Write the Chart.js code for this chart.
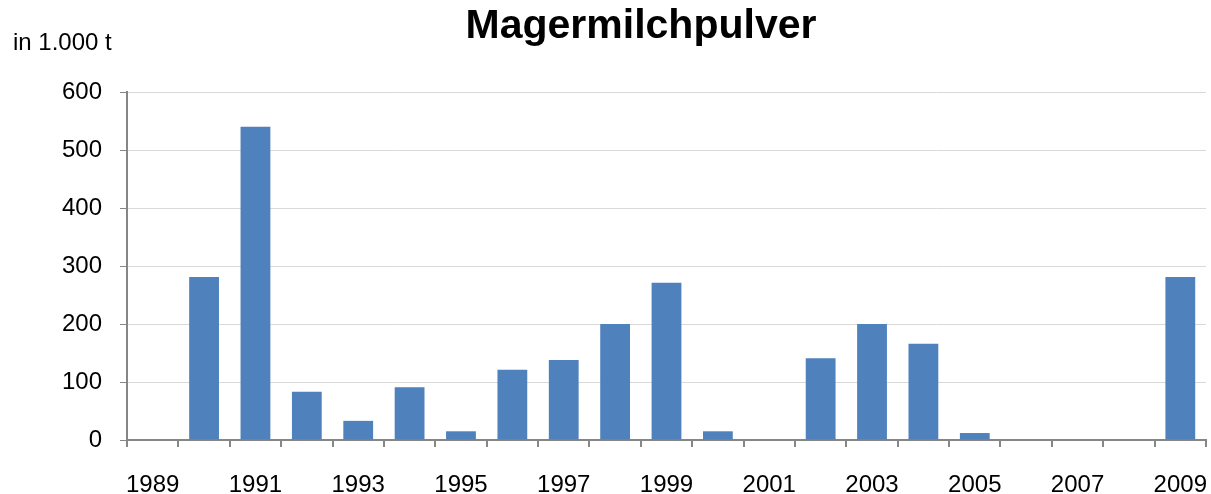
<!DOCTYPE html>
<html>
<head>
<meta charset="utf-8">
<title>Magermilchpulver</title>
<script src="https://cdn.jsdelivr.net/npm/chart.js@4.4.1/dist/chart.umd.min.js"></script>
<style>
    html, body { margin: 0; padding: 0; background: #fff; overflow: hidden; }
    #wrap { width: 1211px; height: 500px; }
</style>
</head>
<body>
<div id="wrap"><canvas id="chart"></canvas></div>
<script>
const years = ["1989", "1990", "1991", "1992", "1993", "1994", "1995", "1996", "1997", "1998", "1999",
    "2000", "2001", "2002", "2003", "2004", "2005", "2006", "2007", "2008", "2009"];
const stocks = [0, 281, 540, 83, 33, 91, 15, 121, 138, 200, 271,
    15, 0, 141, 200, 166, 12, 0, 0, 0, 281];
const yTicks = [0, 100, 200, 300, 400, 500, 600];

const titleText = "Magermilchpulver";
const unitText = "in 1.000 t";

const axisGrey = "#868686";
const font = "'Liberation Sans', Arial, sans-serif";

// title and unit label drawn on top of the canvas
const headerPlugin = {
    id: "header",
    afterDraw(chart) {
        const ctx = chart.ctx;
        ctx.save();
        ctx.fillStyle = "#000";
        ctx.textBaseline = "alphabetic";
        ctx.font = "bold 41px " + font;
        ctx.textAlign = "center";
        ctx.fillText(titleText, 641, 38);
        ctx.font = "24px " + font;
        ctx.textAlign = "left";
        ctx.fillText(unitText, 13, 50);
        ctx.restore();
    }
};

new Chart(document.getElementById("chart"), {
    type: "bar",
    data: {
        labels: years,
        datasets: [{
            data: stocks,
            backgroundColor: "#4F81BD",
            borderWidth: 0,
            barPercentage: 0.58,
            categoryPercentage: 1.0,
        }],
    },
    options: {
        responsive: true,
        maintainAspectRatio: false,
        animation: false,
        layout: { padding: { top: 92, right: 5, left: 0, bottom: 0 } },
        plugins: {
            legend: { display: false },
            tooltip: { enabled: false },
            title: { display: false },
        },
        scales: {
            x: {
                offset: true,
                grid: {
                    offset: true,
                    drawOnChartArea: false,
                    tickColor: axisGrey,
                    tickLength: 7,
                    lineWidth: 2,
                },
                border: { color: axisGrey, width: 2 },
                ticks: {
                    autoSkip: false,
                    maxRotation: 0,
                    padding: 24,
                    color: "#000",
                    font: { family: font, size: 24 },
                    callback: (value, index) => (index % 2 === 0 ? years[index] : ""),
                },
                afterFit: (scale) => {
                    scale.height = 60;
                    scale.paddingLeft = 0;
                    scale.paddingRight = 0;
                },
            },
            y: {
                min: 0,
                max: 600,
                afterBuildTicks: (scale) => { scale.ticks = yTicks.map(v => ({ value: v })); },
                grid: {
                    color: "#D9D9D9",
                    lineWidth: 1,
                    tickColor: axisGrey,
                    tickLength: 7,
                },
                border: { color: axisGrey, width: 2 },
                ticks: {
                    padding: 18,
                    color: "#000",
                    font: { family: font, size: 24 },
                },
                afterFit: (scale) => {
                    scale.width = 127;
                    scale.paddingTop = 0;
                    scale.paddingBottom = 0;
                },
            },
        },
    },
    plugins: [headerPlugin],
});
</script>
</body>
</html>
